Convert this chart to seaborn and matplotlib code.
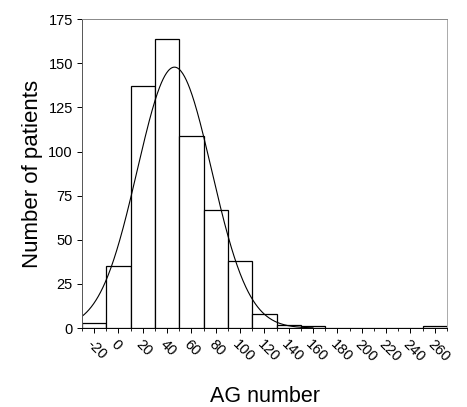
import numpy as np
import pandas as pd
import matplotlib
matplotlib.use("Agg")
import matplotlib.pyplot as plt
import matplotlib.transforms as mtransforms
import seaborn as sns

# histogram counts (bin width 20, centred on the labels)
bin_centers = [-20, 0, 20, 40, 60, 80, 100, 120, 140, 160, 180, 200, 220, 240, 260]
counts = [3, 35, 137, 164, 109, 67, 38, 8, 2, 1, 0, 0, 0, 0, 1]
bin_edges = list(range(-30, 271, 20))

# normal fit
fit_mean = 46
fit_sd = 30.5

y_ticks = [0, 25, 50, 75, 100, 125, 150, 175]
x_ticks = list(range(-20, 261, 20))

sns.set_style("ticks")
plt.rcParams['font.family'] = ['Liberation Sans', 'DejaVu Sans']
plt.rcParams['text.color'] = 'black'
plt.rcParams['xtick.color'] = 'black'
plt.rcParams['ytick.color'] = 'black'
plt.rcParams['axes.labelcolor'] = 'black'

fig = plt.figure(figsize=(4.67, 4.07), dpi=100)
ax = fig.add_axes([0.1756, 0.194, 0.7814, 0.759])

df = pd.DataFrame({'AG': bin_centers, 'n': counts})
sns.histplot(data=df, x='AG', weights='n', bins=bin_edges, ax=ax,
             color='white', edgecolor='black', linewidth=0.9, alpha=1)

# fitted gaussian scaled to counts
xs = np.linspace(-30, 160, 400)
scale = sum(counts) * 20 / (fit_sd * np.sqrt(2 * np.pi))
ys = scale * np.exp(-(xs - fit_mean) ** 2 / (2 * fit_sd ** 2))
sns.lineplot(x=xs, y=ys, ax=ax, color='black', linewidth=0.8)

ax.set_xlim(-30, 270)
ax.set_ylim(0, 175)
ax.set_yticks(y_ticks)
ax.set_yticklabels([str(t) for t in y_ticks], fontsize=10.5)
ax.set_xticks(x_ticks)
ax.set_xticklabels([str(t) for t in x_ticks], fontsize=10.5, rotation=-45,
                   ha='left', va='top', rotation_mode='anchor')
# shift rotated labels a little to the right, like the original
shift = mtransforms.ScaledTranslation(0.06, 0.0, fig.dpi_scale_trans)
for lab in ax.get_xticklabels():
    lab.set_transform(lab.get_transform() + shift)
ax.set_xticks(list(range(-30, 271, 20)), minor=True)
ax.tick_params(axis='both', which='major', direction='out', length=3.5, width=0.7, pad=3)
ax.tick_params(axis='x', which='minor', direction='out', length=2, width=0.6)

for side in ['top', 'right', 'left', 'bottom']:
    ax.spines[side].set_visible(True)
    ax.spines[side].set_linewidth(0.7)
ax.spines['top'].set_color('#888888')
ax.spines['right'].set_color('#aaaaaa')
ax.spines['left'].set_color('#555555')
ax.spines['bottom'].set_color('black')

ax.set_xlabel('AG number', fontsize=15.5)
ax.xaxis.set_label_coords(0.501, -0.188)
ax.set_ylabel('Number of patients', fontsize=16)
ax.yaxis.set_label_coords(-0.107, 0.50)

fig.savefig('out.png', dpi=100)
